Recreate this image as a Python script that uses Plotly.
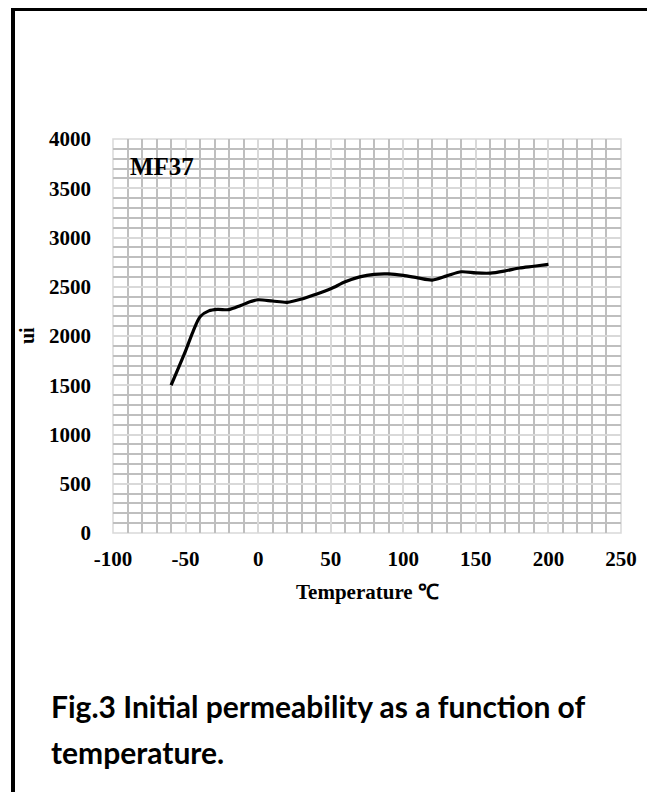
import plotly.graph_objects as go

# Data
temperature = [-60, -50, -45, -40, -34, -28, -20, -12, -5, 0, 10, 20, 30, 40, 50,
               60, 70, 80, 90, 100, 110, 120, 130, 140, 150, 160, 170, 180, 190, 200]
permeability = [1500, 1850, 2040, 2196, 2255, 2270, 2268, 2310, 2350, 2368, 2355, 2342, 2375, 2425, 2480,
                2550, 2600, 2626, 2630, 2615, 2590, 2568, 2610, 2652, 2640, 2638, 2660, 2690, 2708, 2728]

x_ticks = [-100, -50, 0, 50, 100, 150, 200, 250]
y_ticks = [0, 500, 1000, 1500, 2000, 2500, 3000, 3500, 4000]

series_label = "MF37"
x_title = "Temperature ℃"
y_title = "ui"
caption_line1 = "Fig.3 Initial permeability as a function of"
caption_line2 = "temperature."

W, H = 655, 792
OFF = 8  # page body margin offset
L, R, T, B = 113 - OFF, 621 - OFF, 139 - OFF, 533 - OFF


def px_x(p):
    return (p - OFF - L) / (R - L)


def px_y(p):
    return (B - (p - OFF)) / (B - T)


serif = "Liberation Serif"
tick_font = dict(family=serif, size=21, color="black", weight="bold")

fig = go.Figure()
fig.add_trace(go.Scatter(
    x=temperature, y=permeability, mode="lines",
    line=dict(color="black", width=3.2, shape="spline", smoothing=0.8),
    showlegend=False, hoverinfo="skip"))

fig.update_layout(
    width=W, height=H,
    margin=dict(l=L, r=W - R, t=T, b=H - B),
    paper_bgcolor="white", plot_bgcolor="white",
    xaxis=dict(range=[-100, 250], tickvals=x_ticks, ticktext=[str(v) for v in x_ticks],
               showgrid=True, gridcolor="#d9d9d9", gridwidth=1.5,
               minor=dict(dtick=10, showgrid=True, gridcolor="#bfbfbf", gridwidth=1.5),
               zeroline=False, showline=False, ticks="", ticklabelstandoff=11,
               tickfont=tick_font, fixedrange=True),
    yaxis=dict(range=[0, 4000], tickvals=y_ticks, ticktext=[str(v) for v in y_ticks],
               showgrid=True, gridcolor="#d9d9d9", gridwidth=1.5,
               minor=dict(dtick=100, showgrid=True, gridcolor="#bfbfbf", gridwidth=1.5),
               zeroline=False, showline=False, ticks="", ticklabelstandoff=21,
               tickfont=tick_font, fixedrange=True),
)

# plot-area outline (light gray)
fig.add_shape(type="rect", xref="paper", yref="paper", x0=0, x1=1, y0=0, y1=1,
              line=dict(color="#d9d9d9", width=1.5), layer="below")

# outer black frame (bottom edge runs past the image)
fig.add_shape(type="rect", xref="paper", yref="paper",
              x0=px_x(13), x1=px_x(650.5), y0=px_y(812), y1=px_y(9),
              line=dict(color="black", width=4))

fig.add_annotation(x=-89.7, y=3716, xref="x", yref="y", text=series_label,
                   showarrow=False, xanchor="left", yanchor="middle",
                   font=dict(family=serif, size=25, color="black", weight="bold"))

fig.add_annotation(x=0.5, y=px_y(592), xref="paper", yref="paper", text=x_title,
                   showarrow=False, xanchor="center", yanchor="middle",
                   font=dict(family=serif, size=21, color="black", weight="bold"))

fig.add_annotation(x=px_x(27), y=px_y(336), xref="paper", yref="paper", text=y_title,
                   showarrow=False, xanchor="center", yanchor="middle", textangle=-90,
                   font=dict(family=serif, size=20, color="black", weight="bold"))

cap_font = dict(family="Lato", size=30, color="black", weight="bold")
fig.add_annotation(x=px_x(49), y=px_y(706), xref="paper", yref="paper", text=caption_line1,
                   showarrow=False, xanchor="left", yanchor="middle", font=cap_font)
fig.add_annotation(x=px_x(49), y=px_y(752), xref="paper", yref="paper", text=caption_line2,
                   showarrow=False, xanchor="left", yanchor="middle", font=cap_font)

fig.write_html("out.html")
